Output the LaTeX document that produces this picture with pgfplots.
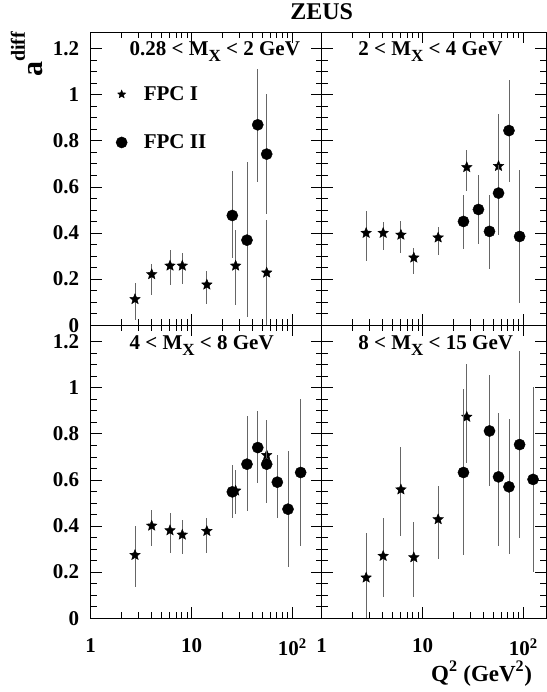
\documentclass[border=0pt]{standalone}
\usepackage{fontspec}
\setmainfont{Liberation Serif}
\usepackage{pgfplots}
\usepackage{pgfplotstable}
\pgfplotsset{compat=1.18}

\pgfdeclareplotmark{fstar}{%
  \pgfpathmoveto{\pgfpointpolar{90}{\pgfplotmarksize}}%
  \pgfpathlineto{\pgfpointpolar{126}{0.45\pgfplotmarksize}}%
  \pgfpathlineto{\pgfpointpolar{162}{\pgfplotmarksize}}%
  \pgfpathlineto{\pgfpointpolar{198}{0.45\pgfplotmarksize}}%
  \pgfpathlineto{\pgfpointpolar{234}{\pgfplotmarksize}}%
  \pgfpathlineto{\pgfpointpolar{270}{0.45\pgfplotmarksize}}%
  \pgfpathlineto{\pgfpointpolar{306}{\pgfplotmarksize}}%
  \pgfpathlineto{\pgfpointpolar{342}{0.45\pgfplotmarksize}}%
  \pgfpathlineto{\pgfpointpolar{18}{\pgfplotmarksize}}%
  \pgfpathlineto{\pgfpointpolar{54}{0.45\pgfplotmarksize}}%
  \pgfpathclose
  \pgfusepathqfillstroke
}

% top-left: 0.28 < MX < 2 GeV
\pgfplotstableread{
x y ep em
2.75 0.113 0.072 0.088
4.03 0.221 0.046 0.091
6.12 0.258 0.067 0.085
8.1 0.258 0.057 0.081
14.2 0.176 0.059 0.085
27.4 0.258 0.153 0.171
55.7 0.228 0.228 0.228
}\TLstar
\pgfplotstableread{
x y ep em
25.4 0.476 0.191 0.183
35.5 0.369 0.338 0.333
45.4 0.869 0.242 0.246
55.7 0.742 0.261 0.260
}\TLcirc
% top-right: 2 < MX < 4 GeV
\pgfplotstableread{
x y ep em
2.76 0.400 0.095 0.122
4.07 0.400 0.047 0.075
6.11 0.392 0.058 0.079
8.2 0.293 0.043 0.069
14.3 0.380 0.046 0.074
27.5 0.685 0.073 0.101
56.8 0.690 0.227 0.100
}\TRstar
\pgfplotstableread{
x y ep em
25.5 0.450 0.113 0.118
35.9 0.502 0.150 0.148
46.2 0.407 0.159 0.162
56.8 0.573 0.120 0.180
72.1 0.844 0.221 0.224
91.9 0.385 0.289 0.288
}\TRcirc
% bottom-left: 4 < MX < 8 GeV
\pgfplotstableread{
x y ep em
2.75 0.274 0.126 0.137
4.03 0.401 0.068 0.088
6.12 0.381 0.076 0.097
8.1 0.362 0.064 0.085
14.2 0.378 0.058 0.097
27.4 0.553 0.089 0.101
55.7 0.707 0.154 0.100
}\BLstar
\pgfplotstableread{
x y ep em
25.4 0.548 0.116 0.115
35.5 0.668 0.208 0.203
45.4 0.740 0.158 0.153
55.7 0.668 0.190 0.168
71 0.590 0.117 0.157
90.6 0.473 0.251 0.249
121 0.632 0.320 0.317
}\BLcirc
% bottom-right: 8 < MX < 15 GeV
\pgfplotstableread{
x y ep em
2.76 0.176 0.195 0.176
4.07 0.270 0.166 0.176
6.11 0.558 0.185 0.200
8.2 0.264 0.154 0.170
14.3 0.429 0.145 0.172
27.5 0.873 0.228 0.200
}\BRstar
\pgfplotstableread{
x y ep em
25.5 0.632 0.361 0.358
46.2 0.812 0.241 0.238
56.8 0.613 0.277 0.300
72.1 0.570 0.293 0.292
91.9 0.753 0.404 0.404
125 0.602 0.401 0.403
}\BRcirc

\newcommand{\fs}{\fontsize{21}{24}\selectfont\bfseries}
\newcommand{\sub}[1]{\raisebox{-6pt}{\fontsize{17}{17}\selectfont #1}}

\pgfplotsset{
  every axis/.append style={
    scale only axis,
    clip mode=individual,
    ymin=0, ymax=1.27,
    height=293pt,
    xtick={1,10,100},
    minor xtick={2,3,4,5,6,7,8,9,20,30,40,50,60,70,80,90,200},
    ytick={0,0.2,0.4,0.6,0.8,1,1.2},
    minor y tick num=3,
    tick align=inside,
    major tick length=11pt, minor tick length=6pt,
    tick style={black, line width=0.6pt},
    axis line style={black, line width=0.8pt},
    ticklabel style={font=\fs},
    xticklabel style={yshift=-16.5pt},
    yticklabel style={xshift=-8pt},
  },
  mystar/.style={only marks, mark=fstar, mark size=5.5pt, black,
    mark options={fill=black, line width=0.4pt},
    error bars/y dir=both, error bars/y explicit, error bars/error mark=none,
    error bars/error bar style={black!60, line width=0.9pt}},
  mycirc/.style={only marks, mark=*, mark size=5.6pt, black,
    mark options={fill=black},
    error bars/y dir=both, error bars/y explicit, error bars/error mark=none,
    error bars/error bar style={black!60, line width=0.9pt}},
}

\begin{document}
\begin{tikzpicture}
\useasboundingbox (-90.7pt,-73.7pt) rectangle (455.3pt,618.3pt);

% top-left
\begin{axis}[xmode=log, xmin=1, xmax=195.7, width=231pt,
  at={(0pt,293pt)}, anchor=south west,
  /pgf/number format/assume math mode=true,
  xticklabels={},
  yticklabels={0,0.2,0.4,0.6,0.8,1,1.2},
  legend style={draw=none, fill=none, inner sep=0pt, row sep=28.7pt,
    column sep=14.5pt, font=\fs,
    at={(0.109,0.822)}, anchor=north west},
  legend cell align=left]
\addplot[mystar, legend image post style={mark size=4.3pt}] table[x=x, y=y, y error plus=ep, y error minus=em] {\TLstar};
\addlegendentry{FPC I}
\addplot[mycirc] table[x=x, y=y, y error plus=ep, y error minus=em] {\TLcirc};
\addlegendentry{FPC II}
\node[anchor=base west, font=\fs] at (axis description cs:0.153,0.9215) {0.28 < M\sub{X} < 2 GeV};
\node[anchor=base, font=\fontsize{24}{26}\selectfont\bfseries] at (axis description cs:1.0,1.0444) {ZEUS};
\node[rotate=90, anchor=base east, font=\fontsize{30}{32}\selectfont\bfseries] at (axis description cs:-0.2065,1.0137) {a\raisebox{18pt}{\fontsize{20}{20}\selectfont diff}};
\end{axis}

% top-right
\begin{axis}[xmode=log, xmin=1, xmax=168, width=224.3pt,
  at={(231pt,293pt)}, anchor=south west,
  xticklabels={}, yticklabels={}]
\addplot[mystar] table[x=x, y=y, y error plus=ep, y error minus=em] {\TRstar};
\addplot[mycirc] table[x=x, y=y, y error plus=ep, y error minus=em] {\TRcirc};
\node[anchor=base west, font=\fs] at (axis description cs:0.148,0.9215) {2 < M\sub{X} < 4 GeV};
\end{axis}

% bottom-left
\begin{axis}[xmode=log, xmin=1, xmax=195.7, width=231pt,
  at={(0pt,0pt)}, anchor=south west,
  /pgf/number format/assume math mode=true,
  yticklabels={0,0.2,0.4,0.6,0.8,1,1.2},
  xticklabels={1,10,10\textsuperscript{2}}]
\addplot[mystar] table[x=x, y=y, y error plus=ep, y error minus=em] {\BLstar};
\addplot[mycirc] table[x=x, y=y, y error plus=ep, y error minus=em] {\BLcirc};
\node[anchor=base west, font=\fs] at (axis description cs:0.153,0.918) {4 < M\sub{X} < 8 GeV};
\end{axis}

% bottom-right
\begin{axis}[xmode=log, xmin=1, xmax=168, width=224.3pt,
  at={(231pt,0pt)}, anchor=south west,
  yticklabels={},
  xticklabels={1,10,10\textsuperscript{2}},
  xlabel={Q\textsuperscript{2} (GeV\textsuperscript{2})},
  xlabel style={font=\fontsize{23}{25}\selectfont\bfseries,
    at={(axis description cs:0.953,-0.214)}, anchor=base east}]
\addplot[mystar] table[x=x, y=y, y error plus=ep, y error minus=em] {\BRstar};
\addplot[mycirc] table[x=x, y=y, y error plus=ep, y error minus=em] {\BRcirc};
\node[anchor=base west, font=\fs] at (axis description cs:0.148,0.918) {8 < M\sub{X} < 15 GeV};
\end{axis}
\end{tikzpicture}
\end{document}
